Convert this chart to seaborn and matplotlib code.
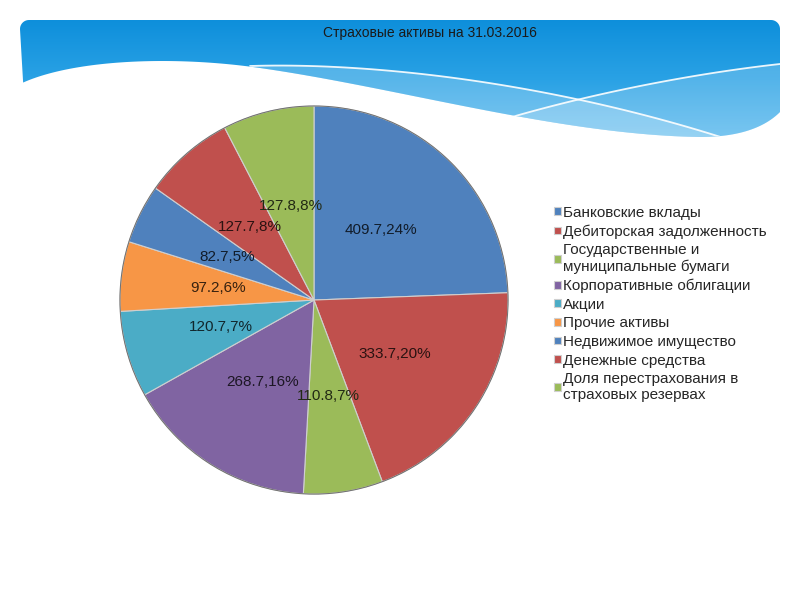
import numpy as np
import matplotlib
matplotlib.use('Agg')
import matplotlib.pyplot as plt
import seaborn as sns
from matplotlib.path import Path
from matplotlib.patches import PathPatch, Polygon, Circle
from matplotlib.colors import LinearSegmentedColormap, to_rgb

title = 'Страховые активы на 31.03.2016'
categories = ['Банковские вклады',
              'Дебиторская задолженность',
              'Государственные и\nмуниципальные бумаги',
              'Корпоративные облигации',
              'Акции',
              'Прочие активы',
              'Недвижимое имущество',
              'Денежные средства',
              'Доля перестрахования в\nстраховых резервах']
values = [409.7, 333.7, 110.8, 268.7, 120.7, 97.2, 82.7, 127.7, 127.8]
colors = ['#4F81BD', '#C0504D', '#9BBB59', '#8064A2', '#4BACC6',
          '#F79646', '#4F81BD', '#C0504D', '#9BBB59']

sns.set_theme(style='white')
plt.rcParams['font.family'] = ['Liberation Sans', 'DejaVu Sans']

fig = plt.figure(figsize=(8, 6), dpi=100)
fig.patch.set_facecolor('white')

# --- decorative header (blue wave) ---
bg = fig.add_axes([0, 0, 1, 1], zorder=0)
bg.set_xlim(0, 800)
bg.set_ylim(600, 0)
bg.axis('off')


def bez(p0, p1, p2, p3, n=50):
    t = np.linspace(0, 1, n)[:, None]
    p0, p1, p2, p3 = map(np.array, (p0, p1, p2, p3))
    return (1 - t)**3 * p0 + 3 * (1 - t)**2 * t * p1 + 3 * (1 - t) * t**2 * p2 + t**3 * p3


def arc(cx, cy, a0, a1, r=9):
    a = np.radians(np.linspace(a0, a1, 12))
    return np.column_stack([cx + r * np.cos(a), cy + r * np.sin(a)])


lower = np.vstack([bez((20, 84), (70, 60), (170, 55), (260, 68)),
                   bez((260, 68), (400, 88), (560, 135), (700, 137)),
                   bez((700, 137), (740, 137), (765, 127), (780, 112))])
outline = np.vstack([arc(29, 29, 180, 270), arc(771, 29, 270, 360),
                     lower[::-1]])
header = PathPatch(Path(outline, closed=True), facecolor='none',
                   edgecolor='none', transform=bg.transData)
bg.add_patch(header)

cmap = LinearSegmentedColormap.from_list('hdr', ['#0e8fdb', '#2aa2e5', '#5ab9ee'])
grad = np.linspace(0, 1, 256)[:, None]
im = bg.imshow(grad, extent=[20, 780, 140, 20], cmap=cmap, aspect='auto', zorder=1)
im.set_clip_path(header)

lineA = bez((250, 66), (380, 62), (560, 85), (730, 140))
lineB = bez((470, 130), (560, 100), (680, 75), (780, 64))
for ln, alpha in [(lineA, 0.22), (lineB, 0.2)]:
    band = Polygon(np.vstack([ln, [ln[-1, 0], 200], [ln[0, 0], 200]]),
                   facecolor='white', edgecolor='none', alpha=alpha, zorder=2)
    bg.add_patch(band)
    band.set_clip_path(header)
    l, = bg.plot(ln[:, 0], ln[:, 1], color='white', lw=1.3, alpha=0.9, zorder=3)
    l.set_clip_path(header)

bg.text(430, 33, title, ha='center', va='center', fontsize=10,
        color='#1a1a1a', zorder=4)

# --- pie ---
ax = fig.add_axes([0.1475, 0.1733, 0.49, 0.6533], zorder=2)
total = sum(values)
wedges, texts, autotexts = ax.pie(
    values, colors=colors, startangle=90, counterclock=False,
    autopct=lambda p: f'{p * total / 100:.1f},{p:.0f}%', pctdistance=0.5,
    wedgeprops=dict(edgecolor='#cfcfcf', linewidth=0.8),
    textprops=dict(fontsize=11))
for t, c in zip(autotexts, colors):
    t.set_color(tuple(0.22 * np.array(to_rgb(c))))
ax.add_patch(Circle((0, 0), 1, fill=False, edgecolor='#6f6f6f', lw=0.7))
ax.set_xlim(-1.01, 1.01)
ax.set_ylim(-1.01, 1.01)

fig.legend(wedges, categories, loc='upper left', bbox_to_anchor=(0.685, 0.667),
           frameon=False, fontsize=11, handlelength=0.42, handleheight=0.42,
           handletextpad=0.15, labelspacing=0.3, borderaxespad=0,
           labelcolor='#262626')

fig.savefig('out.png', dpi=100, facecolor='white')
